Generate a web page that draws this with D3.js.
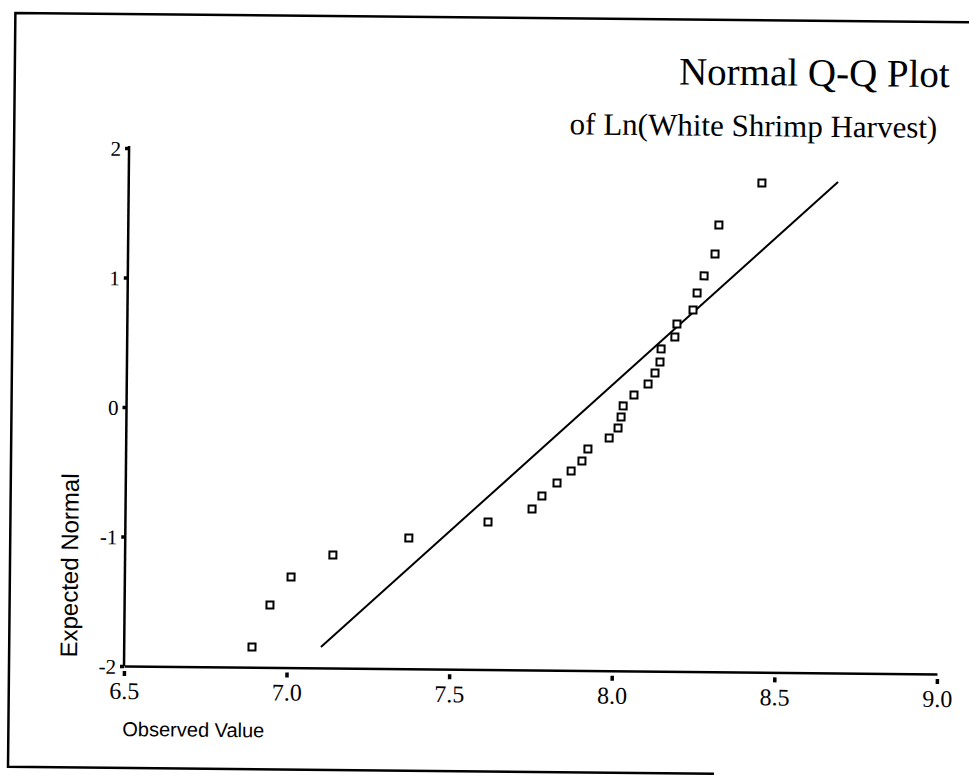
<!DOCTYPE html>
<html>
<head>
<meta charset="utf-8">
<script src="https://cdn.jsdelivr.net/npm/d3@7"></script>
<style>
  html, body { margin: 0; padding: 0; background: #fff; }
  svg { display: block; }
</style>
</head>
<body>
<svg id="chart" width="969" height="780"></svg>
<script>
// ---- data ----
const observedValue = [6.893, 6.947, 7.011, 7.139, 7.372, 7.615, 7.750, 7.780, 7.826, 7.869,
                       7.902, 7.920, 7.985, 8.012, 8.021, 8.027, 8.060, 8.103, 8.124, 8.139,
                       8.142, 8.184, 8.190, 8.239, 8.251, 8.272, 8.305, 8.316, 8.447];
const expectedNormal = [-1.844, -1.518, -1.300, -1.127, -0.990, -0.860, -0.757, -0.656, -0.554, -0.460,
                        -0.382, -0.289, -0.203, -0.125, -0.040, 0.046, 0.131, 0.217, 0.303, 0.388,
                        0.489, 0.582, 0.683, 0.792, 0.924, 1.056, 1.226, 1.450, 1.778];
const refLineX = [7.105, 8.681];
const refLineY = [-1.839, 1.791];
const xTickValues = [6.5, 7.0, 7.5, 8.0, 8.5, 9.0];
const xTickLabels = ["6.5", "7.0", "7.5", "8.0", "8.5", "9.0"];
const yTickValues = [-2, -1, 0, 1, 2];
const yTickLabels = ["-2", "-1", "0", "1", "2"];
const titleText = "Normal Q-Q Plot";
const subtitleText = "of Ln(White Shrimp Harvest)";
const xAxisTitle = "Observed Value";
const yAxisTitle = "Expected Normal";

// ---- layout ----
const svg = d3.select("#chart");
const ox = 124, oy = 666;
const root = svg.append("g").attr("transform", `rotate(0.56,${ox},${oy})`);

const x = d3.scaleLinear().domain([6.5, 9.0]).range([124, 937]);
const y = d3.scaleLinear().domain([-2, 2]).range([666, 148]);

const serif = "'Liberation Serif', 'Times New Roman', serif";
const sans = "'Liberation Sans', Arial, sans-serif";

// frame (scanned page border)
root.append("path")
  .attr("d", "M980,14 L9,14 L9,768 L715,768")
  .attr("fill", "none").attr("stroke", "#000").attr("stroke-width", 2.5);

// y axis
const yAxis = d3.axisLeft(y).tickValues(yTickValues)
  .tickFormat((d, i) => yTickLabels[i]).tickSize(4).tickSizeOuter(0).tickPadding(4);
const gy = root.append("g").attr("transform", `translate(${ox},0)`).call(yAxis);
gy.select(".domain").attr("stroke-width", 2.5).attr("d", `M0,${oy}V146`);
gy.selectAll(".tick line").attr("stroke-width", 3.5);
gy.selectAll(".tick text").attr("font-family", serif).attr("font-size", 21)
  .attr("fill", "#000").attr("dy", "0.35em");

// x axis
const xAxis = d3.axisBottom(x).tickValues(xTickValues)
  .tickFormat((d, i) => xTickLabels[i]).tickSize(0).tickSizeOuter(0);
const gx = root.append("g").attr("transform", `translate(0,${oy})`).call(xAxis);
gx.select(".domain").attr("stroke-width", 2.5);
gx.selectAll(".tick line").attr("y1", 5).attr("y2", 10).attr("stroke-width", 3.5);
gx.selectAll(".tick text").attr("font-family", serif).attr("font-size", 24)
  .attr("fill", "#000").attr("y", 33).attr("dy", 0);

// reference line
root.append("line")
  .attr("x1", x(refLineX[0])).attr("y1", y(refLineY[0]))
  .attr("x2", x(refLineX[1])).attr("y2", y(refLineY[1]))
  .attr("stroke", "#000").attr("stroke-width", 2);

// points (open squares)
const pts = observedValue.map((v, i) => ({ x: v, y: expectedNormal[i] }));
const s = 7;
root.append("g").selectAll("rect").data(pts).join("rect")
  .attr("x", d => x(d.x) - s / 2).attr("y", d => y(d.y) - s / 2)
  .attr("width", s).attr("height", s)
  .attr("fill", "#fff").attr("stroke", "#000").attr("stroke-width", 2);

// titles
root.append("text").attr("x", 944).attr("y", 79).attr("text-anchor", "end")
  .attr("font-family", serif).attr("font-size", 39).text(titleText);
root.append("text").attr("x", 932).attr("y", 130).attr("text-anchor", "end")
  .attr("font-family", serif).attr("font-size", 31).text(subtitleText);

// axis titles
root.append("text").attr("x", 123).attr("y", 736)
  .attr("font-family", sans).attr("font-size", 20).text(xAxisTitle);
root.append("text")
  .attr("transform", "translate(77,566) rotate(-90)").attr("text-anchor", "middle")
  .attr("font-family", sans).attr("font-size", 24).text(yAxisTitle);
</script>
</body>
</html>
